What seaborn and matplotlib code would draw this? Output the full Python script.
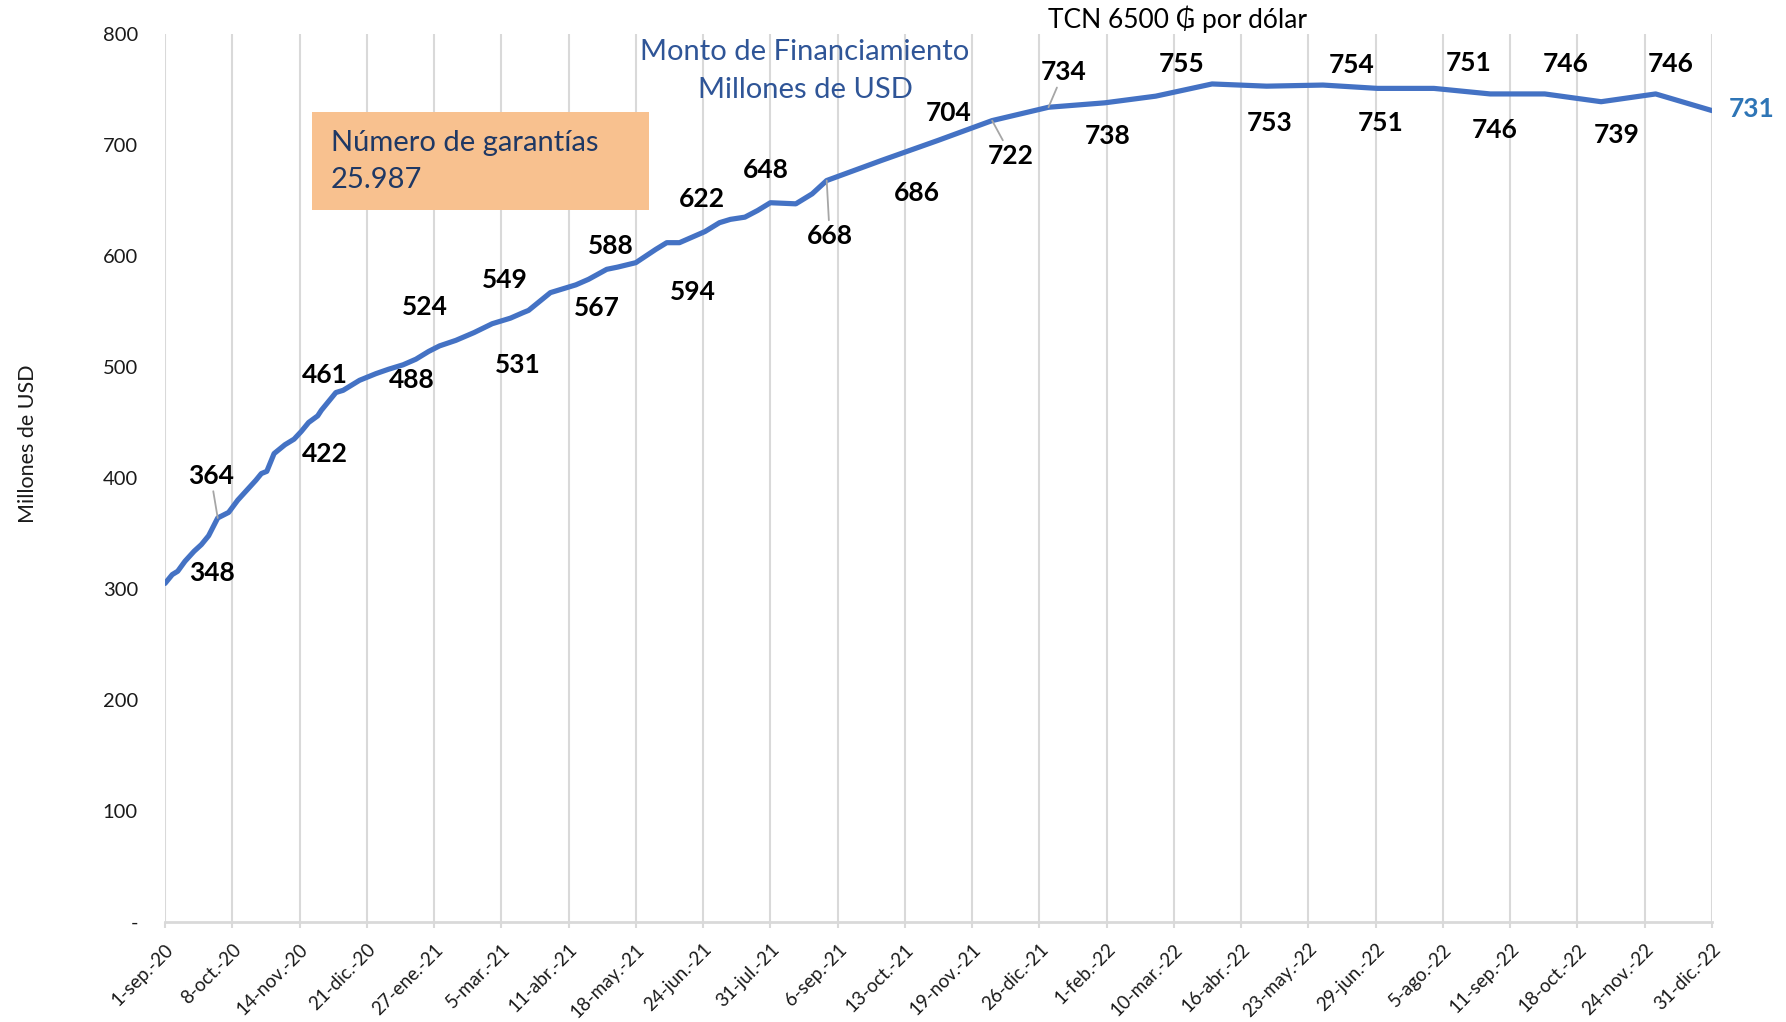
import matplotlib
matplotlib.use("Agg")
import matplotlib.pyplot as plt
import matplotlib.dates as mdates
from matplotlib.patches import Rectangle
import pandas as pd
import seaborn as sns

# Serie: monto de financiamiento acumulado (millones de USD)
fecha = [
    "2020-09-01", "2020-09-05", "2020-09-08", "2020-09-12", "2020-09-17", "2020-09-21",
    "2020-09-25", "2020-09-30", "2020-10-06", "2020-10-11", "2020-10-16", "2020-10-21",
    "2020-10-24", "2020-10-27", "2020-10-31", "2020-11-06", "2020-11-11", "2020-11-15",
    "2020-11-19", "2020-11-24", "2020-11-26", "2020-12-04", "2020-12-08", "2020-12-13",
    "2020-12-17", "2020-12-26", "2021-01-02", "2021-01-10", "2021-01-17", "2021-01-24",
    "2021-01-30", "2021-02-08", "2021-02-18", "2021-02-28", "2021-03-10", "2021-03-17",
    "2021-03-20", "2021-04-01", "2021-04-15", "2021-04-22", "2021-05-02", "2021-05-08",
    "2021-05-18", "2021-05-29", "2021-06-04", "2021-06-11", "2021-06-18", "2021-06-25",
    "2021-07-03", "2021-07-09", "2021-07-17", "2021-07-24", "2021-07-31", "2021-08-14",
    "2021-08-23", "2021-08-31", "2021-09-30", "2021-10-31", "2021-11-30", "2021-12-31",
    "2022-01-31", "2022-02-28", "2022-03-31", "2022-04-30", "2022-05-31", "2022-06-30",
    "2022-07-31", "2022-08-31", "2022-09-30", "2022-10-31", "2022-11-30", "2022-12-31",
]
monto = [
    305, 313, 316, 325, 334, 340,
    348, 364, 369, 380, 389, 398,
    404, 406, 422, 430, 435, 442,
    450, 456, 461, 477, 479, 484,
    488, 494, 498, 502, 507, 514,
    519, 524, 531, 539, 544, 549,
    551, 567, 574, 579, 588, 590,
    594, 606, 612, 612, 617, 622,
    630, 633, 635, 641, 648, 647,
    656, 668, 686, 704, 722, 734,
    738, 744, 755, 753, 754, 751,
    751, 746, 746, 739, 746, 731,
]

# Fechas con etiqueta de valor
fecha_etiqueta = [
    "2020-09-25", "2020-09-30", "2020-10-31", "2020-11-26", "2020-12-17", "2021-02-08",
    "2021-02-18", "2021-03-17", "2021-04-01", "2021-05-02", "2021-05-18", "2021-06-25",
    "2021-07-31", "2021-08-31", "2021-09-30", "2021-10-31", "2021-11-30", "2021-12-31",
    "2022-01-31", "2022-03-31", "2022-04-30", "2022-05-31", "2022-06-30", "2022-07-31",
    "2022-08-31", "2022-09-30", "2022-10-31", "2022-11-30", "2022-12-31",
]

tick_labels = [
    "1-sep.-20", "8-oct.-20", "14-nov.-20", "21-dic.-20", "27-ene.-21", "5-mar.-21",
    "11-abr.-21", "18-may.-21", "24-jun.-21", "31-jul.-21", "6-sep.-21", "13-oct.-21",
    "19-nov.-21", "26-dic.-21", "1-feb.-22", "10-mar.-22", "16-abr.-22", "23-may.-22",
    "29-jun.-22", "5-ago.-22", "11-sep.-22", "18-oct.-22", "24-nov.-22", "31-dic.-22",
]
y_ticks = [0, 100, 200, 300, 400, 500, 600, 700, 800]
y_tick_labels = ["-", "100", "200", "300", "400", "500", "600", "700", "800"]

# Desplazamiento de cada etiqueta respecto de su punto (px: derecha, arriba) y línea guía
label_layout = [
    (3, -37, False), (-7, 42, True), (51, 0, False), (4, 35, False), (52, 0, False),
    (-31, 33, False), (44, -32, False), (-18, 33, False), (46, -15, False), (4, 23, False),
    (57, -29, False), (-3, 33, False), (-5, 33, False), (3, -55, True), (36, -32, False),
    (11, 28, False), (19, -35, True), (15, 35, True), (3, -33, False), (-30, 20, False),
    (3, -37, False), (29, 20, False), (3, -35, False), (35, 25, False), (4, -36, False),
    (21, 30, False), (16, -33, False), (15, 30, False), (40, 2, False),
]

W, H, DPI = 1786, 1022, 100
PT = 72 / DPI


def fx(px):
    return px / W


def fy(py):
    return 1 - py / H


sns.set_theme(style="white")
plt.rcParams["font.family"] = ["Lato", "DejaVu Sans"]

df = pd.DataFrame({"fecha": pd.to_datetime(fecha), "monto": monto})

fig = plt.figure(figsize=(W / DPI, H / DPI), dpi=DPI)
ax = fig.add_axes([fx(165), fy(922), fx(1712) - fx(165), fy(34) - fy(922)])

line_color = "#4472C4"
sns.lineplot(data=df, x="fecha", y="monto", color=line_color, linewidth=5.2 * PT,
             ax=ax, solid_joinstyle="round", solid_capstyle="round", zorder=3)

tick_dates = pd.date_range(df["fecha"].iloc[0], periods=len(tick_labels), freq="37D")
ax.set_xlim(mdates.date2num(tick_dates[0]), mdates.date2num(tick_dates[-1]))
ax.set_xticks(mdates.date2num(tick_dates))
ax.set_xticklabels(tick_labels, rotation=45, ha="right", va="top",
                   rotation_mode="anchor", fontsize=13.5, color="#1a1a1a")
ax.set_ylim(0, 800)
ax.set_yticks(y_ticks)
ax.set_yticklabels(y_tick_labels, fontsize=14.5, color="#1a1a1a")

ax.set_xlabel("")
ax.set_ylabel("")
ax.grid(axis="x", color="#D9D9D9", linewidth=1.5)
ax.grid(axis="y", visible=False)
ax.set_axisbelow(True)
for side in ("top", "right", "left"):
    ax.spines[side].set_visible(False)
ax.spines["bottom"].set_color("#D9D9D9")
ax.spines["bottom"].set_linewidth(2)
ax.tick_params(axis="x", bottom=True, length=6 * PT, width=1.5, color="#D9D9D9", pad=9)
ax.tick_params(axis="y", left=False, length=0, pad=19.5)

# Etiquetas de valor
for d, (dx, dy, leader) in zip(fecha_etiqueta, label_layout):
    d = pd.Timestamp(d)
    v = df.loc[df["fecha"] == d, "monto"].item()
    is_last = d == df["fecha"].iloc[-1]
    arrow = dict(arrowstyle="-", color="#A6A6A6", lw=1.3, shrinkA=0, shrinkB=0) if leader else None
    ax.annotate(f"{v:.0f}", xy=(mdates.date2num(d), v), xytext=(dx * PT, dy * PT),
                textcoords="offset points", ha="center", va="center",
                fontsize=19, fontweight="bold",
                color="#2E75B6" if is_last else "black",
                arrowprops=arrow, annotation_clip=False, zorder=4)

# Títulos y recuadro
fig.text(fx(805), fy(52), "Monto de Financiamiento", ha="center", va="center",
         fontsize=21, color="#2F5597")
fig.text(fx(805), fy(90), "Millones de USD", ha="center", va="center",
         fontsize=21, color="#2F5597")
fig.text(fx(1177), fy(19), "TCN 6500 ₲ por dólar", ha="center", va="center",
         fontsize=19, color="black", family=["Lato", "DejaVu Sans"])

box = Rectangle((fx(312), fy(210)), fx(649) - fx(312), fy(112) - fy(210),
                transform=fig.transFigure, facecolor="#F8C18F", edgecolor="none", zorder=2)
fig.add_artist(box)
fig.text(fx(331), fy(143), "Número de garantías", ha="left", va="center",
         fontsize=21, color="#1F3864", zorder=3)
fig.text(fx(331), fy(180), "25.987", ha="left", va="center",
         fontsize=21, color="#1F3864", zorder=3)

fig.text(fx(28), fy(444), "Millones de USD", rotation=90, ha="center", va="center",
         fontsize=15.5, color="#1a1a1a")

fig.savefig("out.png", dpi=DPI)
